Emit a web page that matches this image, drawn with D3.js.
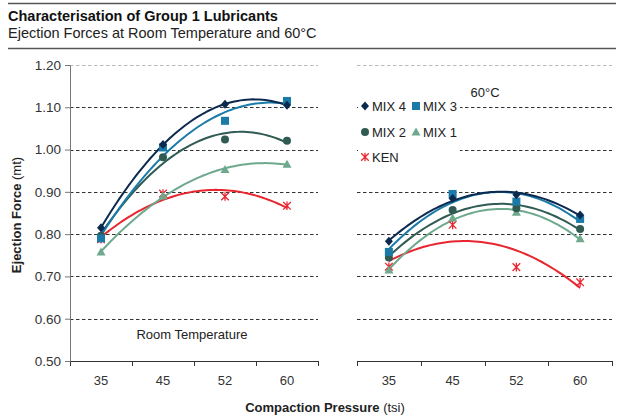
<!DOCTYPE html>
<html>
<head>
<meta charset="utf-8">
<script src="https://cdn.jsdelivr.net/npm/d3@7"></script>
<style>
  html, body { margin: 0; padding: 0; background: #fff; }
  svg { display: block; font-family: "Liberation Sans", Arial, sans-serif; }
</style>
</head>
<body>
<svg id="chart" width="619" height="416"></svg>
<script>
// Compaction pressures (tsi)
const pressures = ["35", "45", "52", "60"];
const yTicks = [0.5, 0.6, 0.7, 0.8, 0.9, 1.0, 1.1, 1.2];

// Ejection force (mt) at room temperature
const roomMix4 = [0.815, 1.012, 1.107, 1.105];
const roomMix3 = [0.790, 1.005, 1.068, 1.115];
const roomMix2 = [0.796, 0.982, 1.024, 1.021];
const roomMix1 = [0.758, 0.890, 0.953, 0.965];
const roomKen  = [0.788, 0.896, 0.889, 0.867];

// Ejection force (mt) at 60°C
const hotMix4 = [0.783, 0.884, 0.893, 0.845];
const hotMix3 = [0.758, 0.895, 0.877, 0.836];
const hotMix2 = [0.745, 0.857, 0.861, 0.812];
const hotMix1 = [0.715, 0.838, 0.852, 0.789];
const hotKen  = [0.723, 0.822, 0.722, 0.686];

const seriesNames  = ["MIX 4", "MIX 3", "MIX 2", "MIX 1", "KEN"];
const seriesColors = ["#0c2a50", "#1a7ba8", "#2f5b52", "#6ea98e", "#e8262f"];
const seriesShapes = ["diamond", "square", "circle", "triangle", "star"];

const svg = d3.select("#chart");
const fontFam = '"Liberation Sans", Arial, sans-serif';

// Header rules and titles
svg.append("line").attr("x1", 8).attr("x2", 616).attr("y1", 3.5).attr("y2", 3.5)
  .attr("stroke", "#555").attr("stroke-width", 1.6);
svg.append("line").attr("x1", 8).attr("x2", 616).attr("y1", 48.5).attr("y2", 48.5)
  .attr("stroke", "#555").attr("stroke-width", 1.6);
svg.append("text").attr("x", 8).attr("y", 21).attr("font-size", 14.5).attr("font-weight", "bold")
  .attr("fill", "#111").text("Characterisation of Group 1 Lubricants");
svg.append("text").attr("x", 8).attr("y", 38).attr("font-size", 14.5)
  .attr("fill", "#222").text("Ejection Forces at Room Temperature and 60°C");

const y = d3.scaleLinear().domain([0.5, 1.2]).range([361, 65]);

const panels = [
  { range: [70, 318], data: [roomMix4, roomMix3, roomMix2, roomMix1, roomKen], yAxis: true },
  { range: [357, 612], data: [hotMix4, hotMix3, hotMix2, hotMix1, hotKen], yAxis: false }
];

// Least-squares quadratic over category index 1..n (polynomial trendline)
function quadFit(vals) {
  let s = [0, 0, 0, 0, 0], t = [0, 0, 0];
  vals.forEach((v, i) => {
    const x = i + 1;
    for (let k = 0; k <= 4; k++) s[k] += Math.pow(x, k);
    for (let k = 0; k <= 2; k++) t[k] += v * Math.pow(x, k);
  });
  const A = [[s[0], s[1], s[2], t[0]], [s[1], s[2], s[3], t[1]], [s[2], s[3], s[4], t[2]]];
  for (let c = 0; c < 3; c++) {
    for (let r = c + 1; r < 3; r++) {
      const f = A[r][c] / A[c][c];
      for (let k = c; k < 4; k++) A[r][k] -= f * A[c][k];
    }
  }
  const coef = [0, 0, 0];
  for (let r = 2; r >= 0; r--) {
    let v = A[r][3];
    for (let k = r + 1; k < 3; k++) v -= A[r][k] * coef[k];
    coef[r] = v / A[r][r];
  }
  return x => coef[0] + coef[1] * x + coef[2] * x * x;
}

function drawMarker(g, shape, cx, cy, color) {
  if (shape === "diamond") {
    g.append("path").attr("d", `M${cx},${cy - 4.5}L${cx + 4},${cy}L${cx},${cy + 4.5}L${cx - 4},${cy}Z`).attr("fill", color);
  } else if (shape === "square") {
    g.append("rect").attr("x", cx - 4).attr("y", cy - 4).attr("width", 8).attr("height", 8).attr("fill", color);
  } else if (shape === "circle") {
    g.append("circle").attr("cx", cx).attr("cy", cy).attr("r", 4).attr("fill", color);
  } else if (shape === "triangle") {
    g.append("path").attr("d", `M${cx},${cy - 4.5}L${cx + 4.5},${cy + 3.5}L${cx - 4.5},${cy + 3.5}Z`).attr("fill", color);
  } else if (shape === "star") {
    const r = 3.8;
    g.append("path")
      .attr("d", `M${cx - r},${cy - r}L${cx + r},${cy + r}M${cx - r},${cy + r}L${cx + r},${cy - r}M${cx},${cy - r - 0.5}L${cx},${cy + r + 0.5}`)
      .attr("stroke", color).attr("stroke-width", 1.3).attr("fill", "none");
  }
}

panels.forEach(p => {
  const x = d3.scaleBand().domain(pressures).range(p.range);
  const g = svg.append("g");

  // Grid lines
  g.selectAll("line.grid").data(yTicks.filter(v => v > 0.5)).join("line")
    .attr("class", "grid")
    .attr("x1", p.range[0]).attr("x2", p.range[1])
    .attr("y1", d => Math.round(y(d)) + 0.5).attr("y2", d => Math.round(y(d)) + 0.5)
    .attr("stroke", d => d === 1.2 ? "#bbb" : "#333")
    .attr("stroke-width", 1)
    .attr("stroke-dasharray", "3.5,2.5");

  // x axis
  const xAxis = d3.axisBottom(x).tickSize(0).tickPadding(15);
  const ax = g.append("g").attr("transform", `translate(0,${361})`).call(xAxis);
  ax.select(".domain").remove();
  ax.selectAll("text").attr("font-size", 13).attr("font-family", fontFam).attr("fill", "#333");
  g.append("line").attr("x1", p.range[0]).attr("x2", p.range[1]).attr("y1", 361.5).attr("y2", 361.5)
    .attr("stroke", "#333").attr("stroke-width", 1.2);
  const edges = pressures.map(c => x(c)).concat([p.range[1]]);
  g.selectAll("line.xtick").data(edges).join("line")
    .attr("class", "xtick")
    .attr("x1", d => Math.round(d) + 0.5).attr("x2", d => Math.round(d) + 0.5)
    .attr("y1", 361).attr("y2", 366).attr("stroke", "#333").attr("stroke-width", 1);

  if (p.yAxis) {
    const yAxis = d3.axisLeft(y).tickValues(yTicks).tickFormat(d3.format(".2f")).tickSize(5).tickPadding(4);
    const ay = g.append("g").attr("transform", `translate(${p.range[0]},0)`).call(yAxis);
    ay.select(".domain").attr("stroke", "#777");
    ay.selectAll(".tick line").attr("stroke", "#777");
    ay.selectAll("text").attr("font-size", 13.5).attr("font-family", fontFam).attr("fill", "#333");
  }

  // Trendlines
  const step = x.step();
  const x0 = x(pressures[0]) + x.bandwidth() / 2;
  const samples = d3.range(0, 61).map(i => 1 + i * (pressures.length - 1) / 60);
  const order = [4, 3, 2, 1, 0];
  order.forEach(si => {
    const f = quadFit(p.data[si]);
    const line = d3.line().x(t => x0 + (t - 1) * step).y(t => y(f(t)));
    g.append("path").attr("d", line(samples)).attr("fill", "none")
      .attr("stroke", seriesColors[si]).attr("stroke-width", 2);
  });

  // Markers
  order.forEach(si => {
    p.data[si].forEach((v, i) => {
      drawMarker(g, seriesShapes[si], x(pressures[i]) + x.bandwidth() / 2, y(v), seriesColors[si]);
    });
  });
});

// Panel labels
svg.append("text").attr("x", 192).attr("y", 339).attr("text-anchor", "middle")
  .attr("font-size", 13).attr("fill", "#222").text("Room Temperature");
svg.append("text").attr("x", 485).attr("y", 97).attr("text-anchor", "middle")
  .attr("font-size", 13).attr("fill", "#222").text("60°C");

// Legend
const legend = svg.append("g");
legend.append("rect").attr("x", 358).attr("y", 98).attr("width", 102).attr("height", 68).attr("fill", "#fff");
const legendPos = [[365, 106], [416, 106], [365, 132], [416, 132], [365, 157]];
seriesNames.forEach((name, i) => {
  const [lx, ly] = legendPos[i];
  drawMarker(legend, seriesShapes[i], lx, ly, seriesColors[i]);
  legend.append("text").attr("x", lx + 7).attr("y", ly + 4.5).attr("font-size", 13)
    .attr("fill", "#222").text(name);
});

// Axis titles
const yt = svg.append("text").attr("transform", "translate(21,215) rotate(-90)")
  .attr("text-anchor", "middle").attr("font-size", 13).attr("fill", "#222");
yt.append("tspan").attr("font-weight", "bold").text("Ejection Force");
yt.append("tspan").text(" (mt)");

const xt = svg.append("text").attr("x", 325).attr("y", 412)
  .attr("text-anchor", "middle").attr("font-size", 13).attr("fill", "#222");
xt.append("tspan").attr("font-weight", "bold").text("Compaction Pressure");
xt.append("tspan").text(" (tsi)");
</script>
</body>
</html>
